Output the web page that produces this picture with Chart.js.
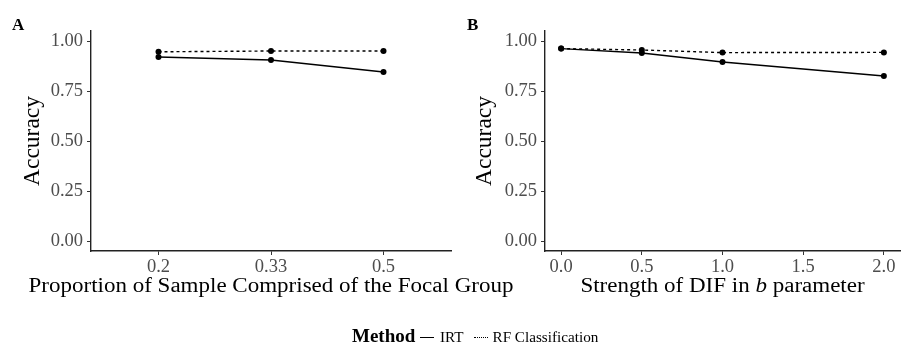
<!DOCTYPE html>
<html>
<head>
<meta charset="utf-8">
<script src="https://cdn.jsdelivr.net/npm/chart.js@4.4.1/dist/chart.umd.min.js"></script>
<style>
  html, body { margin: 0; padding: 0; background: #fff; }
  body { width: 904px; height: 343px; position: relative; overflow: hidden;
         font-family: "Liberation Serif", "Times New Roman", serif; }
  .panel { position: absolute; top: 0; }
  #legend { position: absolute; left: 0; top: 0; width: 904px; height: 343px; color: #000; }
  #legend span { position: absolute; white-space: nowrap; line-height: 1; }
  #legend .title { font-weight: bold; font-size: 19px; }
  #legend .label { font-size: 15.2px; }
  #legend .key { height: 0; width: 14px; }
</style>
</head>
<body>
<canvas id="panelA" class="panel" style="left:0px" width="904" height="300"></canvas>
<canvas id="panelB" class="panel" style="left:452px" width="452" height="300"></canvas>
<div id="legend"></div>
<script>
// Accuracy by proportion of the sample in the focal group (discrete levels)
const proportionLabels = ['0.2', '0.33', '0.5'];
const irtByProportion = [0.920, 0.905, 0.845];
const rfByProportion  = [0.946, 0.950, 0.950];

// Accuracy by strength of DIF in the b parameter
const difStrength    = [0.0, 0.5, 1.0, 2.0];
const irtByStrength  = [0.962, 0.940, 0.895, 0.825];
const rfByStrength   = [0.962, 0.955, 0.942, 0.943];
const strengthTicks  = [0.0, 0.5, 1.0, 1.5, 2.0];

const accuracyTicks = [0, 0.25, 0.5, 0.75, 1.0];
const methodNames = ['IRT', 'RF Classification'];
const methodDash  = [[], [3, 3]];

const SERIF = '"Liberation Serif", "Times New Roman", serif';
const INK = '#000000';
const TICK_TEXT = '#4d4d4d';
const AXIS = '#222222';

function lineDataset(name, dash, points) {
  return {
    label: name,
    data: points,
    borderColor: INK,
    backgroundColor: INK,
    borderWidth: 1.4,
    borderDash: dash,
    pointRadius: 3,
    pointBorderWidth: 0,
    pointBackgroundColor: INK,
    tension: 0,
    fill: false
  };
}

// Panel letter and the x-axis title (which may mix upright and italic runs)
const panelDecor = {
  id: 'panelDecor',
  afterDraw(chart, args, opts) {
    const ctx = chart.ctx;
    ctx.save();
    ctx.fillStyle = INK;
    ctx.textBaseline = 'alphabetic';
    ctx.textAlign = 'left';
    ctx.font = 'bold 17px ' + SERIF;
    ctx.fillText(opts.letter, opts.letterX, 30);

    const parts = opts.xTitle;
    const size = 20;
    const widen = 1.15;
    const fontOf = p => (p.italic ? 'italic ' : '') + size + 'px ' + SERIF;
    let total = 0;
    parts.forEach(p => { ctx.font = fontOf(p); total += ctx.measureText(p.text).width; });
    const area = chart.chartArea;
    const center = (area.left + area.right) / 2;
    ctx.translate(center - total * widen / 2, 291.5);
    ctx.scale(widen, 1);
    let x = 0;
    parts.forEach(p => {
      ctx.font = fontOf(p);
      ctx.fillText(p.text, x, 0);
      x += ctx.measureText(p.text).width;
    });
    ctx.restore();
  }
};

function yAxis(width) {
  return {
    type: 'linear',
    min: -0.05,
    max: 1.05,
    afterBuildTicks: s => { s.ticks = accuracyTicks.map(v => ({ value: v })); },
    afterFit: s => { s.width = width; },
    ticks: { callback: v => Number(v).toFixed(2), color: TICK_TEXT,
             font: { family: SERIF, size: 18.5 }, padding: 4 },
    grid: { drawOnChartArea: false, drawTicks: true, tickLength: 4, color: '#333333', lineWidth: 1 },
    border: { display: true, color: AXIS, width: 1.4 },
    title: { display: true, text: 'Accuracy', color: INK,
             font: { family: SERIF, size: 23.5 }, padding: { top: 19, bottom: 0 } }
  };
}

function xAxisBase(extra) {
  return Object.assign({
    type: 'linear',
    afterFit: s => { s.height = 49; },
    grid: { drawOnChartArea: false, drawTicks: true, tickLength: 4, color: '#333333', lineWidth: 1 },
    border: { display: true, color: AXIS, width: 1.4 },
    title: { display: false }
  }, extra);
}

const common = {
  responsive: false,
  animation: false,
  events: [],
  plugins: { legend: { display: false }, tooltip: { enabled: false } }
};

// Panel A: proportion levels placed at positions 1..3 on a discrete-style axis.
// Its canvas spans the full width so the long axis title can run past the panel.
new Chart(document.getElementById('panelA'), {
  type: 'line',
  data: {
    datasets: [
      lineDataset(methodNames[0], methodDash[0], irtByProportion.map((y, i) => ({ x: i + 1, y }))),
      lineDataset(methodNames[1], methodDash[1], rfByProportion.map((y, i) => ({ x: i + 1, y })))
    ]
  },
  options: Object.assign({}, common, {
    layout: { padding: { left: 0, right: 453, top: 31, bottom: 0 } },
    scales: {
      x: xAxisBase({
        min: 0.4, max: 3.6,
        afterBuildTicks: s => { s.ticks = proportionLabels.map((_, i) => ({ value: i + 1 })); },
        ticks: { color: TICK_TEXT, font: { family: SERIF, size: 18.5 }, padding: 1, maxRotation: 0,
                 callback: v => proportionLabels[v - 1] }
      }),
      y: yAxis(91)
    },
    plugins: Object.assign({}, common.plugins, {
      panelDecor: { letter: 'A', letterX: 12,
                    xTitle: [{ text: 'Proportion of Sample Comprised of the Focal Group' }] }
    })
  }),
  plugins: [panelDecor]
});

// Panel B: continuous DIF strength
new Chart(document.getElementById('panelB'), {
  type: 'line',
  data: {
    datasets: [
      lineDataset(methodNames[0], methodDash[0], irtByStrength.map((y, i) => ({ x: difStrength[i], y }))),
      lineDataset(methodNames[1], methodDash[1], rfByStrength.map((y, i) => ({ x: difStrength[i], y })))
    ]
  },
  options: Object.assign({}, common, {
    layout: { padding: { left: 0, right: 0, top: 31, bottom: 0 } },
    scales: {
      x: xAxisBase({
        min: -0.1, max: 2.1,
        afterBuildTicks: s => { s.ticks = strengthTicks.map(v => ({ value: v })); },
        ticks: { color: TICK_TEXT, font: { family: SERIF, size: 18.5 }, padding: 1, maxRotation: 0,
                 callback: v => Number(v).toFixed(1) }
      }),
      y: yAxis(93)
    },
    plugins: Object.assign({}, common.plugins, {
      panelDecor: { letter: 'B', letterX: 15,
                    xTitle: [{ text: 'Strength of DIF in ' }, { text: 'b', italic: true }, { text: ' parameter' }] }
    })
  }),
  plugins: [panelDecor]
});

// Shared legend for the line type of each method
const legend = document.getElementById('legend');
function put(cls, text, left, top) {
  const el = document.createElement('span');
  el.className = cls;
  if (text) el.textContent = text;
  el.style.left = left + 'px';
  el.style.top = top + 'px';
  legend.appendChild(el);
  return el;
}
put('title', 'Method', 352, 325.5);
const keyLefts = [420, 474];
const labelLefts = [440, 492.5];
methodNames.forEach((name, i) => {
  const key = put('key', '', keyLefts[i], 336.5);
  key.style.borderTop = methodDash[i].length ? '1.4px dotted #000' : '1.4px solid #000';
  put('label', name, labelLefts[i], 328.6);
});
</script>
</body>
</html>
